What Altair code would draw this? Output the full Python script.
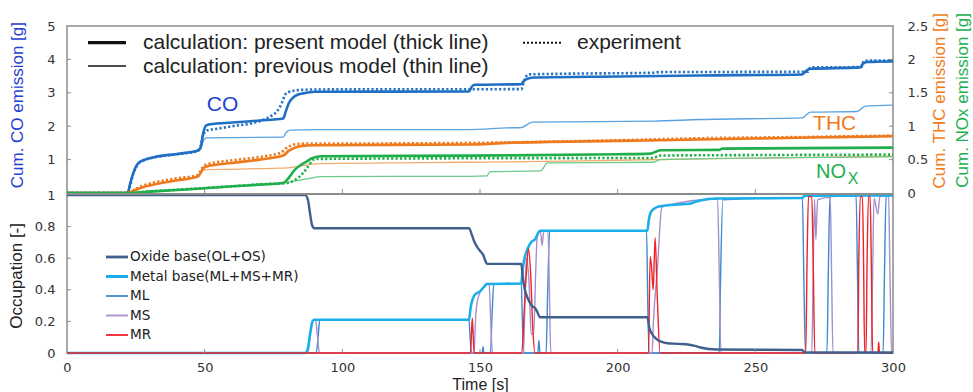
import altair as alt
import pandas as pd

# ---------------- data ----------------
# top panel: cumulative emissions; CO in g (left axis), THC / NOx in g (right axis)
t_co_present = [0, 22, 23, 24, 25, 26, 28, 32, 40, 47.5, 48.5, 49.5, 50.5, 52, 60, 70, 78.5, 79.5, 80.5, 82,
                84, 87, 90, 146, 147, 148, 165, 166, 167.5, 170, 200, 230, 267, 268.5, 270, 288, 289, 290.5, 300]
co_present = [0, 0, 0.3, 0.58, 0.78, 0.9, 0.99, 1.08, 1.17, 1.27, 1.35, 1.8, 2.02, 2.06, 2.11, 2.17, 2.23, 2.45, 2.68, 2.85,
              2.95, 3.0, 3.03, 3.04, 3.18, 3.24, 3.26, 3.36, 3.43, 3.46, 3.49, 3.52, 3.55, 3.66, 3.72, 3.76, 3.86, 3.92, 3.94]
t_co_exp = [0, 22, 23, 24, 25, 26, 28, 32, 40, 47.5, 48.5, 49.5, 51, 55, 60, 70, 74, 76, 77.5, 79.8,
            84, 90, 165, 166, 167.5, 180, 213, 215, 269, 270, 288.5, 289.5, 300]
co_exp = [0, 0, 0.25, 0.55, 0.76, 0.88, 0.98, 1.07, 1.16, 1.26, 1.4, 1.75, 1.88, 1.93, 2.0, 2.15, 2.3, 2.42, 2.6, 3.0,
          3.08, 3.1, 3.11, 3.35, 3.55, 3.57, 3.6, 3.62, 3.63, 3.76, 3.77, 3.96, 3.97]
t_co_prev = [0, 22, 23, 24, 25, 26, 28, 32, 40, 47.5, 48.5, 49.5, 50.5, 60, 78.5, 79.5, 81, 90, 146, 160,
             165, 169, 213, 230, 267, 270, 287, 290, 300]
co_prev = [0, 0, 0.3, 0.58, 0.78, 0.9, 0.99, 1.08, 1.17, 1.27, 1.35, 1.55, 1.65, 1.66, 1.67, 1.8, 1.88, 1.9, 1.9, 1.95,
           1.96, 2.12, 2.15, 2.2, 2.25, 2.42, 2.44, 2.6, 2.63]

t_thc_present = [0, 22, 24, 27, 32, 40, 47.5, 48.5, 49.5, 51, 60, 70, 78.5, 80.5, 83.5, 87, 90, 146, 160, 200, 230, 270, 300]
thc_present = [0, 0, 0.03, 0.08, 0.13, 0.19, 0.245, 0.3, 0.37, 0.4, 0.45, 0.5, 0.56, 0.63, 0.69, 0.71, 0.715, 0.725, 0.75, 0.78, 0.8, 0.83, 0.85]
t_thc_exp = [0, 22, 24, 27, 32, 40, 47.5, 48.5, 49.5, 51, 60, 70, 77.5, 80, 83, 87, 90, 146, 200, 230, 270, 300]
thc_exp = [0, 0, 0.04, 0.1, 0.16, 0.22, 0.27, 0.33, 0.4, 0.43, 0.49, 0.54, 0.6, 0.68, 0.73, 0.74, 0.74, 0.75, 0.79, 0.82, 0.84, 0.86]
t_thc_prev = [0, 22, 24, 27, 32, 40, 47.5, 48.5, 49.5, 51, 60, 75, 80, 84, 91, 146, 160, 200, 230, 300]
thc_prev = [0, 0, 0.03, 0.08, 0.13, 0.19, 0.245, 0.29, 0.34, 0.35, 0.355, 0.37, 0.375, 0.4, 0.44, 0.46, 0.465, 0.49, 0.51, 0.55]

t_nox_present = [0, 22, 30, 40, 50, 60, 70, 78.5, 80, 82.8, 85, 87, 89, 90.7, 92, 146, 200, 212, 215.5, 237, 238, 300]
nox_present = [0, 0, 0.02, 0.045, 0.07, 0.1, 0.125, 0.15, 0.2, 0.35, 0.42, 0.47, 0.52, 0.54, 0.55, 0.56, 0.58, 0.59, 0.64, 0.645, 0.665, 0.68]
t_nox_exp = [0, 22, 30, 40, 50, 60, 70, 80, 83, 85.8, 88, 89.5, 91, 146, 213, 215, 265, 300]
nox_exp = [0, 0, 0.025, 0.05, 0.075, 0.1, 0.13, 0.15, 0.2, 0.3, 0.42, 0.5, 0.51, 0.52, 0.525, 0.56, 0.57, 0.575]
t_nox_prev = [0, 22, 30, 40, 50, 60, 70, 78.5, 80, 83, 87, 90, 92, 146, 152.5, 153.6, 172, 174.5, 213, 215.5, 300]
nox_prev = [0, 0, 0.02, 0.045, 0.07, 0.1, 0.125, 0.15, 0.16, 0.18, 0.21, 0.235, 0.245, 0.25, 0.255, 0.32, 0.33, 0.45, 0.46, 0.5, 0.54]

# bottom panel: occupation [-]
t_oxide = [0, 86.5, 87.5, 88.3, 89, 89.8, 146, 147, 147.8, 149, 150.3, 151.2, 151.8, 152.5, 165, 165.6, 166.3, 167.5,
           169, 170, 170.8, 171.8, 210.8, 211.5, 212.5, 214, 216, 218, 222, 226, 228, 230, 236, 267, 268, 300]
oxide = [1, 1, 0.97, 0.88, 0.81, 0.79, 0.79, 0.75, 0.71, 0.67, 0.64, 0.62, 0.59, 0.565, 0.563, 0.47, 0.40, 0.34,
         0.295, 0.285, 0.26, 0.226, 0.226, 0.16, 0.12, 0.09, 0.07, 0.062, 0.058, 0.052, 0.045, 0.035, 0.022, 0.019, 0.004, 0.003]
t_metal = [0, 86.5, 87.5, 88.3, 89, 89.8, 146, 146.6, 147.3, 148.2, 150, 151.5, 152.5, 165, 165.5, 166.2, 167.3, 168.5,
           170, 171.8, 210.8, 211.3, 212, 213, 214.5, 216, 218, 222, 226, 228, 230, 236, 267, 268, 300]
metal = [0, 0, 0.03, 0.12, 0.19, 0.21, 0.21, 0.29, 0.34, 0.37, 0.39, 0.42, 0.437, 0.44, 0.53, 0.6, 0.66, 0.7,
         0.72, 0.774, 0.774, 0.84, 0.89, 0.91, 0.925, 0.93, 0.935, 0.94, 0.945, 0.955, 0.965, 0.978, 0.981, 0.996, 0.997]
t_ml = [0, 90.5, 91.2, 91.8, 146, 146.4, 146.9, 150.8, 151.1, 151.4, 153.8, 154.4, 155, 165, 165.4, 165.9, 171, 171.4,
        171.8, 174, 174.6, 175.3, 210.5, 210.9, 211.4, 236.9, 237.4, 238.2, 267.1, 267.6, 268.2, 276, 276.5, 277.1,
        286.6, 287.1, 287.6, 296.4, 296.9, 297.5, 300]
ml = [0, 0, 0.1, 0.21, 0.21, 0.1, 0, 0, 0.04, 0, 0, 0.25, 0.437, 0.44, 0.2, 0, 0, 0.08,
      0, 0, 0.4, 0.77, 0.774, 0.35, 0, 0, 0.5, 0.97, 0.981, 0.5, 0, 0, 0.5, 0.99,
      0.995, 0.5, 0, 0, 0.5, 0.99, 0.997]
t_ms = [0, 87.5, 88.3, 89, 90.3, 91, 91.7, 147.8, 148.5, 149.5, 151.5, 152.5, 153.3, 153.9, 154.5, 165.8, 166.3, 166.8,
        167.8, 168.6, 169.5, 170.2, 170.8, 172, 172.5, 173.2, 174.7, 175.2, 175.7, 212.5, 213, 214.5, 216, 217, 236.3,
        236.9, 237.5, 270.5, 271, 271.5, 272, 272.6, 277.2, 277.7, 278.2, 292, 292.6, 293.1, 294.5, 295.2, 298.4,
        298.9, 299.5, 300]
ms = [0, 0, 0.12, 0.2, 0.21, 0.1, 0, 0, 0.25, 0.36, 0.42, 0.437, 0.44, 0.2, 0, 0, 0.3, 0.6,
      0.45, 0.12, 0.12, 0.5, 0.74, 0.77, 0.68, 0.77, 0.77, 0.4, 0, 0, 0.2, 0.55, 0.92, 0.93, 0.975,
      0.5, 0, 0, 0.5, 0.97, 0.72, 0.97, 0.985, 0.5, 0, 0, 0.5, 0.98, 0.88, 0.99, 0.995,
      0.5, 0, 0]
t_mr = [0, 146.5, 146.9, 147.2, 147.5, 147.9, 165.2, 166, 166.8, 167.6, 168.4, 169.2, 170, 211.2, 211.8, 212.3, 212.9,
        213.6, 214.4, 215.4, 268.3, 268.8, 269.3, 270.5, 271, 271.6, 287.2, 287.6, 288.1, 288.9, 289.3, 289.7, 290.2,
        290.6, 291.1, 291.7, 292.1, 292.6, 294.5, 294.8, 295.1, 300]
mr = [0, 0, 0.12, 0.22, 0.12, 0, 0, 0.25, 0.5, 0.66, 0.5, 0.15, 0, 0, 0.61, 0.55, 0.40,
      0.73, 0.35, 0, 0, 0.6, 0.99, 0.99, 0.6, 0, 0, 0.6, 0.99, 0.99, 0.6, 0, 0,
      0.6, 0.99, 0.99, 0.6, 0, 0, 0.07, 0, 0]

# ticks / labels
time_ticks = [0, 50, 100, 150, 200, 250, 300]
time_inner_ticks = [50, 100, 150, 200, 250]
co_ticks = [1, 2, 3, 4, 5]
right_ticks = [0, 0.5, 1, 1.5, 2, 2.5]
occ_ticks = [0, 0.2, 0.4, 0.6, 0.8, 1]

legend_names = ["Oxide base(OL+OS)", "Metal base(ML+MS+MR)", "ML", "MS", "MR"]
legend_colors = ["#40608C", "#1AAFEA", "#3A8AD4", "#A690CA", "#EE2229"]
legend_widths = [2.4, 2.6, 1.4, 1.4, 1.4]

# ---------------- layout constants ----------------
W, H = 826, 327
TOP_BOTTOM = 167
BOT_TOP = 169
FT = "Liberation Sans"
FN = "DejaVu Sans"
GRAY = "#8c8c8c"

x_scale = alt.Scale(domain=[0, 300], nice=False, zero=False)
x_axis = alt.Axis(values=time_ticks, title="Time [s]", grid=False, domain=False, ticks=False,
                  labelFlush=False, labelPadding=8, labelFont=FN, labelFontSize=13, labelColor="#333333",
                  titleFont=FT, titleFontSize=16, titleFontWeight="normal", titleColor="#222222",
                  titlePadding=2)
X = alt.X("t:Q", scale=x_scale, axis=x_axis)

sA = alt.Scale(domain=[0, 5], range=[TOP_BOTTOM, 0], nice=False, zero=False)
sB = alt.Scale(domain=[0, 2.5], range=[TOP_BOTTOM, 0], nice=False, zero=False)
sC = alt.Scale(domain=[0, 1], range=[H, BOT_TOP], nice=False, zero=False)

def yaxis(orient, values, pad):
    return alt.Axis(orient=orient, values=values, format="~g", title=None, grid=False, domain=False,
                    ticks=False, labelFlush=False, labelPadding=pad, labelFont=FN, labelFontSize=13,
                    labelColor="#333333")

yA = alt.Y("v:Q", scale=sA, axis=yaxis("left", co_ticks, 12))
yB = alt.Y("v:Q", scale=sB, axis=yaxis("right", right_ticks, 14))
yC = alt.Y("v:Q", scale=sC, axis=yaxis("left", occ_ticks, 12))


def df(t, v):
    return pd.DataFrame({"t": t, "v": v})


def line(t, v, yenc, color, width, dash=None):
    kw = dict(color=color, strokeWidth=width, interpolate="monotone", strokeCap="butt")
    if dash:
        kw["strokeDash"] = dash
    return alt.Chart(df(t, v)).mark_line(**kw).encode(x=X, y=yenc)


DOT = [2.2, 2.2]
one = pd.DataFrame({"k": [0]})

# ---------------- group A : CO ----------------
gA = alt.layer(
    alt.Chart(pd.DataFrame({"v": co_ticks[:-1]})).mark_rule(color=GRAY, strokeWidth=1).encode(
        y=yA, x=alt.value(0), x2=alt.value(4)),
    line(t_co_prev, co_prev, yA, "#5AA3E0", 1.3),
    line(t_co_exp, co_exp, yA, "#2672C4", 2.6, DOT),
    line(t_co_present, co_present, yA, "#1F6FC5", 2.6),
    alt.Chart(pd.DataFrame({"t": [56.5], "v": [2.64], "s": ["CO"]})).mark_text(
        font=FT, fontSize=21, color="#1F3FD1", baseline="middle", align="center").encode(
        x=X, y=yA, text="s:N"),
)

# ---------------- group B : THC / NOx ----------------
gB = alt.layer(
    alt.Chart(pd.DataFrame({"v": right_ticks[1:-1]})).mark_rule(color=GRAY, strokeWidth=1).encode(
        y=yB, x=alt.value(W - 4), x2=alt.value(W)),
    line(t_thc_prev, thc_prev, yB, "#F5AC70", 1.3),
    line(t_nox_prev, nox_prev, yB, "#6CCB88", 1.3),
    line(t_thc_exp, thc_exp, yB, "#EE7A1E", 2.6, DOT),
    line(t_nox_exp, nox_exp, yB, "#1FAF4A", 2.6, DOT),
    line(t_thc_present, thc_present, yB, "#EE7A1E", 2.6),
    line(t_nox_present, nox_present, yB, "#1FAF4A", 2.6),
    alt.Chart(pd.DataFrame({"t": [278.8], "v": [1.036], "s": ["THC"]})).mark_text(
        font=FT, fontSize=21, color="#F07C20", baseline="middle", align="center").encode(
        x=X, y=yB, text="s:N"),
    alt.Chart(pd.DataFrame({"t": [277.5], "v": [0.309], "s": ["NO"]})).mark_text(
        font=FT, fontSize=20, color="#22B04C", baseline="middle", align="center").encode(
        x=X, y=yB, text="s:N"),
    alt.Chart(pd.DataFrame({"t": [285.5], "v": [0.211], "s": ["X"]})).mark_text(
        font=FT, fontSize=16, color="#22B04C", baseline="middle", align="center").encode(
        x=X, y=yB, text="s:N"),
)

# ---------------- group C : occupation ----------------
gC = alt.layer(
    alt.Chart(pd.DataFrame({"v": occ_ticks[1:-1]})).mark_rule(color=GRAY, strokeWidth=1).encode(
        y=yC, x=alt.value(0), x2=alt.value(4)),
    line(t_ml, ml, yC, legend_colors[2], legend_widths[2]),
    line(t_ms, ms, yC, legend_colors[3], legend_widths[3]),
    line(t_metal, metal, yC, legend_colors[1], legend_widths[1]),
    line(t_mr, mr, yC, legend_colors[4], legend_widths[4]),
    line(t_oxide, oxide, yC, legend_colors[0], legend_widths[0]),
)

# ---------------- decorations (frames, ticks, legends, titles) ----------------
deco = []
# separator between panels
deco.append(alt.Chart(one).mark_rule(color=GRAY, strokeWidth=2).encode(
    x=alt.value(0), x2=alt.value(W), y=alt.value(168)))
# inner x ticks for both panels
for ybase in (TOP_BOTTOM, H):
    deco.append(alt.Chart(pd.DataFrame({"t": time_inner_ticks})).mark_rule(color=GRAY, strokeWidth=1).encode(
        x=X, y=alt.value(ybase - 4), y2=alt.value(ybase)))

# top legend
deco.append(alt.Chart(one).mark_rule(color="#111111", strokeWidth=3.2).encode(
    x=alt.value(21), x2=alt.value(59), y=alt.value(16.7)))
deco.append(alt.Chart(one).mark_rule(color="#111111", strokeWidth=1.6).encode(
    x=alt.value(21), x2=alt.value(59), y=alt.value(40)))
deco.append(alt.Chart(one).mark_rule(color="#111111", strokeWidth=2, strokeDash=[2, 2], strokeCap="butt").encode(
    x=alt.value(456), x2=alt.value(496), y=alt.value(16.7)))
for txt, xx, yy in [("calculation: present model (thick line)", 76, 23.3),
                    ("calculation: previous model (thin line)", 76, 46.7),
                    ("experiment", 510, 23.3)]:
    deco.append(alt.Chart(one).mark_text(text=txt, font=FT, fontSize=21, color="#222222",
                                         align="left", baseline="alphabetic").encode(
        x=alt.value(xx), y=alt.value(yy)))

# bottom legend
for i, (nm, col, wd) in enumerate(zip(legend_names, legend_colors, legend_widths)):
    yy = 231 + i * 19.5
    deco.append(alt.Chart(one).mark_rule(color=col, strokeWidth=wd + 0.4).encode(
        x=alt.value(39), x2=alt.value(61), y=alt.value(yy)))
    deco.append(alt.Chart(one).mark_text(text=nm, font=FN, fontSize=13.6, color="#222222",
                                         align="left", baseline="middle").encode(
        x=alt.value(63), y=alt.value(yy)))

# axis titles
for txt, xx, yy, col in [("Cum. CO emission [g]", -49, -4, "#2440D0"),
                         ("Occupation [-]", -50, 197, "#222222"),
                         ("Cum. THC emission [g]", 872.5, -13, "#F07C20"),
                         ("Cum. NOx emission [g]", 896, -13, "#22B04C")]:
    deco.append(alt.Chart(one).mark_text(text=txt, font=FT, fontSize=17, color=col, angle=270,
                                         align="right", baseline="middle").encode(
        x=alt.value(xx), y=alt.value(yy)))

chart = alt.layer(gA, gB, gC, *deco).resolve_scale(y="independent").properties(
    width=W, height=H,
    autosize=alt.AutoSizeParams(type="none"),
    padding={"left": 67, "top": 26, "right": 80, "bottom": 39},
).configure_view(stroke=GRAY, strokeWidth=1.5)

chart.save("out.html", embed_options={"renderer": "svg", "actions": False})
